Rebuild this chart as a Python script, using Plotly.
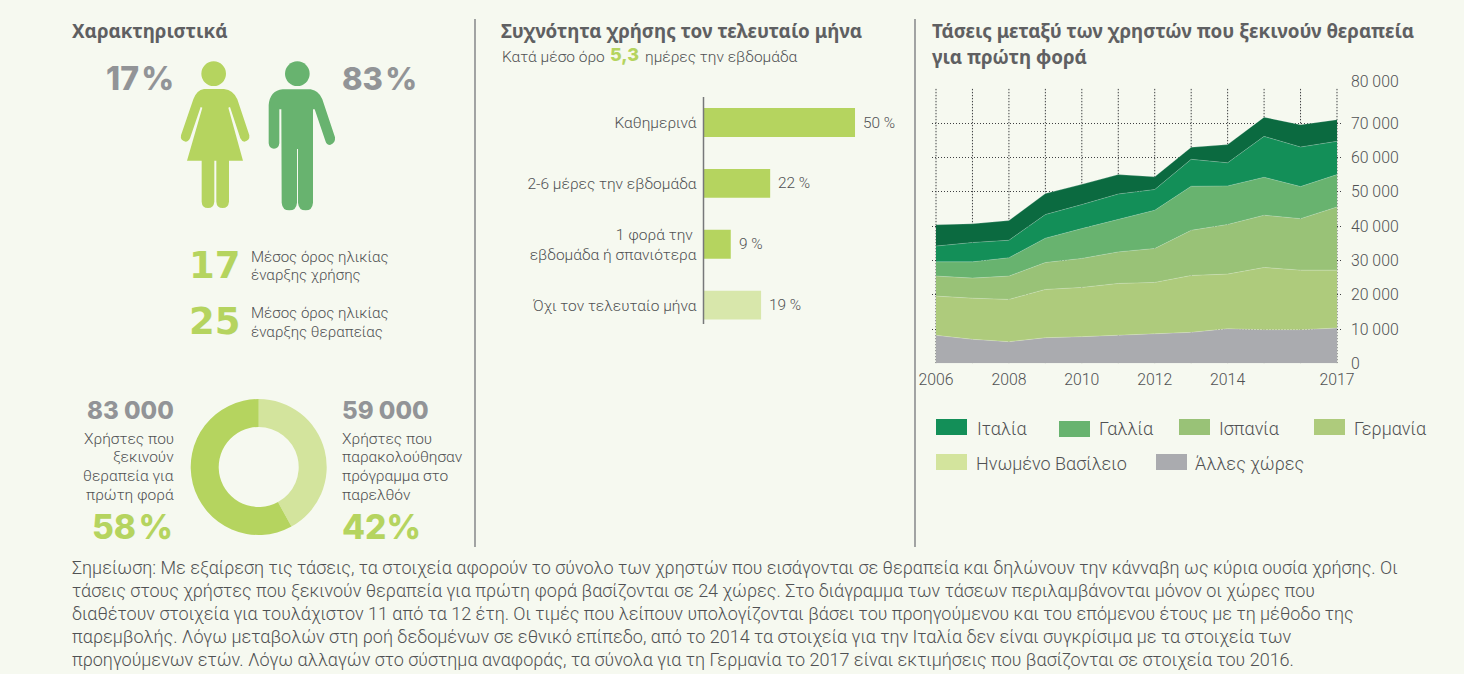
import plotly.graph_objects as go

W, H = 1464, 674
FONT = "Roboto"
HEAVY = "Inter"
SLAB = "DejaVu Sans"
TITLE = "Noto Sans"
TXT = "#505153"
GREY = "#929497"
LIME = "#b5d45f"
BG = "#f6f9f0"

# ---- data ----
years = list(range(2006, 2018))
other = [8150, 7000, 6300, 7470, 7770, 8150, 8450, 9030, 10100, 9800, 9800, 10300]
band2 = [11450, 12000, 12340, 14080, 14370, 15150, 15150, 16600, 15920, 18160, 17380, 16880]
band3 = [5840, 5850, 6800, 7850, 8460, 9200, 9900, 13170, 14480, 15240, 15020, 18420]
band4 = [4160, 4750, 5360, 7100, 8700, 9500, 11160, 12850, 11250, 11070, 9350, 9450]
band5 = [4600, 5640, 5100, 6900, 7000, 7400, 6040, 7850, 6750, 11930, 11550, 9710]
band6 = [6200, 5460, 5750, 6100, 5900, 5650, 3700, 3500, 5300, 5600, 6500, 6310]
band_names = ["Άλλες χώρες", "Ηνωμένο Βασίλειο", "Γερμανία", "Ισπανία", "Γαλλία", "Ιταλία"]
band_colors = ["#aaabaf", "#aecb7c", "#99c277", "#68b36f", "#138f58", "#0b6a40"]
y_tick_vals = [0, 10000, 20000, 30000, 40000, 50000, 60000, 70000, 82150]
y_tick_text = ["0", "10 000", "20 000", "30 000", "40 000", "50 000", "60 000", "70 000", "80 000"]
x_tick_vals = [2006, 2008, 2010, 2012, 2014, 2017]

freq_labels = ["Καθημερινά", "2-6 μέρες την εβδομάδα", "1 φορά την\u00a0<br>εβδομάδα ή σπανιότερα", "Όχι τον τελευταίο μήνα"]
freq_values = [50, 22, 9, 19]
freq_text = ["50 %", "22 %", "9 %", "19 %"]
freq_colors = [LIME, LIME, LIME, "#d8e7ab"]

donut_values = [42, 58]
donut_colors = ["#d3e49d", LIME]


def px(x):
    return x / W


def py(y):
    return 1 - y / H


fig = go.Figure()

# ---- area chart ----
for vals, name, col in zip([other, band2, band3, band4, band5, band6], band_names, band_colors):
    fig.add_trace(go.Scatter(
        x=years, y=vals, name=name, stackgroup="a", mode="lines",
        line=dict(width=0.6, color="rgba(255,255,255,0.35)"), fillcolor=col,
        showlegend=False, xaxis="x", yaxis="y"))

# ---- bars ----
fig.add_trace(go.Bar(
    x=freq_values, y=list(range(4)), orientation="h", width=0.475,
    marker=dict(color=freq_colors, line=dict(width=0)),
    showlegend=False, xaxis="x2", yaxis="y2"))

# ---- donut ----
cx, cy, R = 258.7, 467, 68
fig.add_trace(go.Pie(
    values=donut_values, marker=dict(colors=donut_colors, line=dict(width=0)),
    hole=40 / 68, sort=False, direction="clockwise", rotation=0, textinfo="none",
    showlegend=False,
    domain=dict(x=[px(cx - R), px(cx + R)], y=[py(cy + R), py(cy - R)])))

shapes = []
annots = []


def text(x, y, s, size=15.5, color=TXT, anchor="left", family=FONT, weight=300):
    annots.append(dict(
        x=px(x), y=py(y), xref="paper", yref="paper", text=s,
        showarrow=False, xanchor=anchor, yanchor="middle", align=anchor,
        borderpad=0, borderwidth=0,
        font=dict(family=family, size=size, color=color, weight=weight)))


def title(x, y, s):
    text(x, y, s, 18.8, "#5f6062", "left", TITLE, 700)


def heavy(x, y, s, size, color, anchor):
    text(x, y, s, size, color, anchor, HEAVY, 800)


def rect(x0, y0, x1, y1, color):
    shapes.append(dict(type="rect", xref="paper", yref="paper", x0=px(x0), x1=px(x1),
                       y0=py(y1), y1=py(y0), fillcolor=color, line=dict(width=0)))


def vline(x, y0, y1, color="#8d8e90", w=1.6):
    shapes.append(dict(type="line", xref="paper", yref="paper", x0=px(x), x1=px(x),
                       y0=py(y1), y1=py(y0), line=dict(color=color, width=w)))


def icon(cmds, color):
    """Icon outline given in page pixels."""
    parts = []
    for c in cmds:
        pts = c[1:]
        s = c[0]
        for i in range(0, len(pts), 2):
            s += f"{px(pts[i]):.5f},{py(pts[i + 1]):.5f} "
        parts.append(s)
    shapes.append(dict(type="path", xref="paper", yref="paper", path=" ".join(parts) + "Z",
                       fillcolor=color, line=dict(width=0)))


def Z(x, y):
    return (60 + x / 3, 50 + y / 3)


def cmd(c, *zpts):
    out = [c]
    for p in zpts:
        out += list(Z(*p))
    return tuple(out)


def head(zx, zy, zr, color):
    x, y = Z(zx, zy)
    r = zr / 3
    shapes.append(dict(type="circle", xref="paper", yref="paper", x0=px(x - r), x1=px(x + r),
                       y0=py(y + r), y1=py(y - r), fillcolor=color, line=dict(width=0)))


# woman
head(461, 71, 37, LIME)
icon([
    cmd("M", (432, 117)), cmd("L", (492, 117)), cmd("Q", (520, 120), (532, 148)),
    cmd("L", (568, 256)), cmd("Q", (570, 272), (553, 275)), cmd("Q", (546, 275), (541, 265)),
    cmd("L", (510, 171)), cmd("L", (505, 173)), cmd("L", (549, 332)), cmd("L", (507, 332)),
    cmd("L", (507, 455)), cmd("Q", (505, 474), (488, 474)), cmd("Q", (470, 474), (469, 455)),
    cmd("L", (469, 332)), cmd("L", (463, 332)), cmd("L", (463, 455)), cmd("Q", (461, 474), (444, 474)),
    cmd("Q", (426, 474), (425, 455)), cmd("L", (425, 332)), cmd("L", (381, 332)), cmd("L", (427, 173)),
    cmd("L", (422, 171)), cmd("L", (390, 265)), cmd("Q", (385, 275), (377, 275)),
    cmd("Q", (360, 272), (363, 256)), cmd("L", (400, 148)), cmd("Q", (410, 120), (432, 117)),
], LIME)

# man
MAN = "#68b36f"
head(712, 71, 37, MAN)
icon([
    cmd("M", (668, 118)), cmd("L", (752, 118)), cmd("Q", (777, 122), (787, 148)),
    cmd("L", (825, 262)), cmd("Q", (827, 280), (810, 285)), cmd("Q", (800, 285), (796, 272)),
    cmd("L", (764, 178)), cmd("L", (759, 178)), cmd("L", (759, 458)), cmd("Q", (757, 481), (737, 481)),
    cmd("Q", (716, 481), (714, 458)), cmd("L", (714, 297)), cmd("L", (711, 297)), cmd("L", (711, 458)),
    cmd("Q", (709, 481), (688, 481)), cmd("Q", (667, 481), (665, 458)), cmd("L", (664, 178)),
    cmd("L", (658, 178)), cmd("L", (658, 280)), cmd("Q", (656, 296), (642, 296)),
    cmd("Q", (628, 296), (626, 280)), cmd("L", (626, 165)), cmd("Q", (630, 122), (668, 118)),
], MAN)

# dividers
vline(475, 19, 547)
vline(915, 19, 547)
vline(703.5, 97, 324, "#77787a", 1.5)

# vertical dotted grid (stops below the top horizontal line)
DOT = "1.4px,1.6px"
GRID = "#3f4042"
for yr in years:
    shapes.append(dict(type="line", xref="x", yref="y", x0=yr, x1=yr, y0=0, y1=80300, layer="below",
                       line=dict(color=GRID, width=1, dash=DOT)))

# bar value labels, placed from the data
for i, (v, s) in enumerate(zip(freq_values, freq_text)):
    annots.append(dict(x=v, y=i, xref="x2", yref="y2", text=s, showarrow=False, xanchor="left",
                       xshift=6, font=dict(family=FONT, size=15.4, color=TXT, weight=300)))

# titles
title(72, 31, "Χαρακτηριστικά")
title(501, 31, "Συχνότητα χρήσης τον τελευταίο μήνα")
title(932, 31, "Τάσεις μεταξύ των χρηστών που ξεκινούν θεραπεία")
title(932, 57, "για πρώτη φορά")
text(502, 57, "Κατά μέσο όρο", 15.5)
heavy(610, 55, "5,3", 18, LIME, "left")
text(645, 57, "ημέρες την εβδομάδα", 15.5)

# left column
heavy(174, 78, "17\u200a%", 32, GREY, "right")
heavy(342, 78, "83\u200a%", 31, GREY, "left")
text(241, 265, "17", 37, LIME, "right", SLAB, 700)
text(241, 322, "25", 37, LIME, "right", SLAB, 700)
text(251, 257, "Μέσος όρος ηλικίας", 15.1)
text(251, 275, "έναρξης χρήσης", 15.1)
text(251, 313, "Μέσος όρος ηλικίας", 15.1)
text(251, 332, "έναρξης θεραπείας", 15.1)

heavy(174, 410, "83 000", 24, GREY, "right")
heavy(342, 410, "59 000", 24, GREY, "left")
for y, s in zip([439, 457, 476, 495], ["Χρήστες που", "ξεκινούν", "θεραπεία για", "πρώτη φορά"]):
    text(174, y, s, 15.5, TXT, "right")
for y, s in zip([439, 457, 476, 495], ["Χρήστες που", "παρακολούθησαν", "πρόγραμμα στο", "παρελθόν"]):
    text(342, y, s, 15.5, TXT, "left")
heavy(173, 527, "58\u200a%", 33.5, LIME, "right")
heavy(342, 527, "42%", 33.5, LIME, "left")

# legend (colours exactly as drawn in the reference key)
legend_items = [
    (936, 419, 967, 435, "#138f58", 977, 428, "Ιταλία"),
    (1059, 421, 1090, 437, "#68b36f", 1099, 428, "Γαλλία"),
    (1179, 419, 1210, 435, "#99c277", 1219, 428, "Ισπανία"),
    (1314, 419, 1345, 435, "#aecb7c", 1354, 428, "Γερμανία"),
    (936, 454, 967, 470, "#d3e49d", 976, 463, "Ηνωμένο Βασίλειο"),
    (1156, 454, 1187, 470, "#aaabaf", 1195, 463, "Άλλες χώρες"),
]
for x0, y0, x1, y1, c, tx, ty, s in legend_items:
    rect(x0, y0, x1, y1, c)
    text(tx, ty, s, 18)

note_lines = [
    "Σημείωση: Με εξαίρεση τις τάσεις, τα στοιχεία αφορούν το σύνολο των χρηστών που εισάγονται σε θεραπεία και δηλώνουν την κάνναβη ως κύρια ουσία χρήσης. Οι",
    "τάσεις στους χρήστες που ξεκινούν θεραπεία για πρώτη φορά βασίζονται σε 24 χώρες. Στο διάγραμμα των τάσεων περιλαμβάνονται μόνον οι χώρες που",
    "διαθέτουν στοιχεία για τουλάχιστον 11 από τα 12 έτη. Οι τιμές που λείπουν υπολογίζονται βάσει του προηγούμενου και του επόμενου έτους με τη μέθοδο της",
    "παρεμβολής. Λόγω μεταβολών στη ροή δεδομένων σε εθνικό επίπεδο, από το 2014 τα στοιχεία για την Ιταλία δεν είναι συγκρίσιμα με τα στοιχεία των",
    "προηγούμενων ετών. Λόγω αλλαγών στο σύστημα αναφοράς, τα σύνολα για τη Γερμανία το 2017 είναι εκτιμήσεις που βασίζονται σε στοιχεία του 2016.",
]
for i, s in enumerate(note_lines):
    text(72, 567 + i * 23.2, s, 18.03)

tick_font = dict(family=FONT, size=15.8, color=TXT, weight=300)
fig.update_layout(
    width=W, height=H, margin=dict(l=0, r=0, t=0, b=0, autoexpand=False),
    paper_bgcolor=BG, plot_bgcolor="rgba(0,0,0,0)", hovermode=False, showlegend=False,
    shapes=shapes, annotations=annots,
    font=dict(family=FONT, color=TXT),
    xaxis=dict(domain=[px(932), px(1341)], range=[2005.89, 2017.11], tickmode="array",
               tickvals=x_tick_vals, ticktext=[str(v) for v in x_tick_vals], showgrid=False,
               zeroline=False, showline=False, ticks="", tickfont=tick_font, anchor="y",
               ticklabelstandoff=5),
    yaxis=dict(domain=[py(363.3), py(81.7)], range=[0, 82150], side="right", tickmode="array",
               tickvals=y_tick_vals, ticktext=y_tick_text, showgrid=True, griddash=DOT,
               gridcolor=GRID, gridwidth=1, zeroline=False, showline=False, ticks="",
               tickfont=tick_font, anchor="x", ticklabelstandoff=9),
    xaxis2=dict(domain=[px(703.5), px(903.5)], range=[0, 66], visible=False, anchor="y2"),
    yaxis2=dict(domain=[py(324), py(97.3)], range=[3.31, -0.415], tickmode="array",
                tickvals=list(range(4)), ticktext=freq_labels, showgrid=False, zeroline=False,
                showline=False, ticks="", tickfont=dict(family=FONT, size=15.5, color=TXT, weight=300),
                anchor="x2", ticklabelstandoff=6),
)

fig.write_html("out.html", config=dict(displayModeBar=False),
               post_script="document.body.style.margin='0';document.documentElement.style.overflow='hidden';")
